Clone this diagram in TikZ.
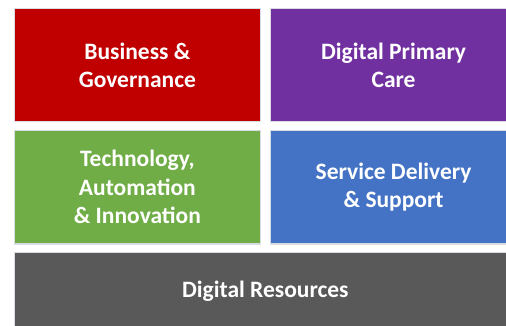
\documentclass[tikz,border=0pt]{standalone}
\usepackage{fontspec}
\setmainfont{Carlito}
\definecolor{cred}{HTML}{C00000}
\definecolor{cpurple}{HTML}{7030A0}
\definecolor{cgreen}{HTML}{70AD47}
\definecolor{cblue}{HTML}{4472C4}
\definecolor{cgray}{HTML}{595959}
\definecolor{cedge}{HTML}{D9DCE3}
\begin{document}
\begin{tikzpicture}[x=1pt,y=-1pt,
  tile/.style={draw=cedge,line width=1.2pt,inner sep=0pt,text=white,align=center,
    font=\bfseries\fontsize{23.5}{28.5}\selectfont,anchor=north west},
]
\useasboundingbox (0,0) rectangle (506,326);
\clip (0,0) rectangle (506,326);
\fill[white] (0,0) rectangle (506,326);
\node[tile,fill=cred,minimum width=246.5pt,minimum height=113pt] (bg) at (13.5,8) {Business \&\\Governance};
\node[tile,fill=cpurple,minimum width=246pt,minimum height=113pt] (dpc) at (270,8) {Digital Primary\\Care};
\node[tile,fill=cgreen,minimum width=246.5pt,minimum height=113.5pt] (tai) at (13.5,129.8) {Technology,\\Automation\\\& Innovation};
\node[tile,fill=cblue,minimum width=246pt,minimum height=113.5pt] (sds) at (270,129.8) {Service Delivery\\\& Support};
\node[tile,fill=cgray,minimum width=502.5pt,minimum height=77pt] (dr) at (13.5,251.8) {Digital Resources};
\end{tikzpicture}
\end{document}
